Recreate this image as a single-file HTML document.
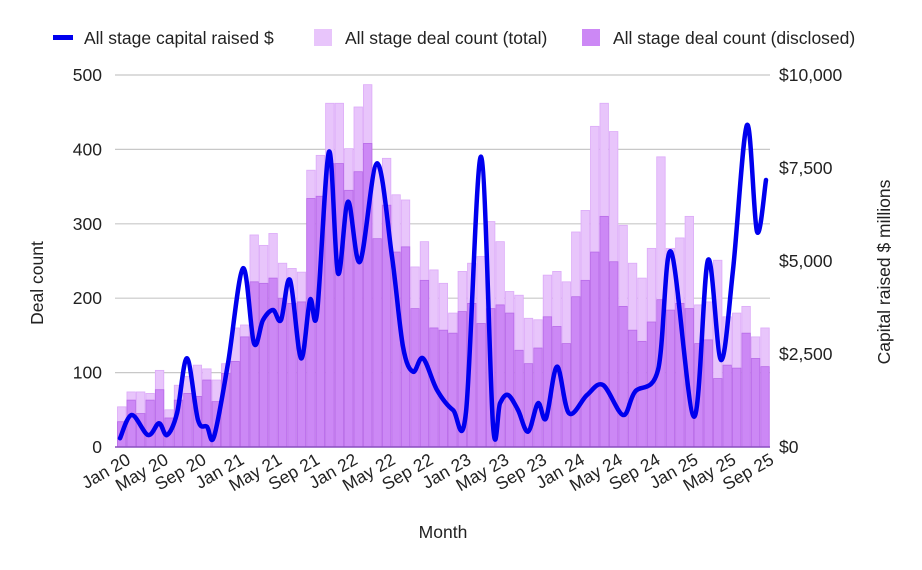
<!DOCTYPE html>
<html><head><meta charset="utf-8"><style>
html,body{margin:0;padding:0;background:#fff;}
svg{display:block;font-family:"Liberation Sans",Arial,sans-serif;}
</style></head><body>
<svg id="c" width="922" height="570" viewBox="0 0 922 570" xmlns="http://www.w3.org/2000/svg">
<rect width="922" height="570" fill="#fff"/>
<g id="grid" stroke="#c8c8c8" stroke-width="1.2"></g>
<g id="bars"></g>
<line x1="115" y1="447" x2="770" y2="447" stroke="#8a4fc0" stroke-width="1.5"/>
<path id="line" fill="none" stroke="#0000ee" stroke-width="4.5" stroke-linejoin="round" stroke-linecap="round"/>
<g id="labels" font-size="17.5" fill="#222"></g>
<!-- legend -->
<rect x="53" y="35" width="20" height="5" fill="#0000ee"/>
<text x="84" y="44" font-size="17.5" fill="#222">All stage capital raised $</text>
<rect x="314" y="29" width="18" height="17" fill="#e8c5fb"/>
<text x="345" y="44" font-size="17.5" fill="#222">All stage deal count (total)</text>
<rect x="582" y="29" width="18" height="17" fill="#cc88f5"/>
<text x="613" y="44" font-size="17.5" fill="#222">All stage deal count (disclosed)</text>
<text transform="translate(43,283) rotate(-90)" text-anchor="middle" font-size="17.5" fill="#222">Deal count</text>
<text transform="translate(890,272) rotate(-90)" text-anchor="middle" font-size="17.5" fill="#222">Capital raised $ millions</text>
<text x="443" y="538" text-anchor="middle" font-size="17.5" fill="#222">Month</text>
</svg>
<script>
var NS="http://www.w3.org/2000/svg";
function el(t,a,p){var e=document.createElementNS(NS,t);for(var k in a)e.setAttribute(k,a[k]);p.appendChild(e);return e;}
var g=document.getElementById('grid'),b=document.getElementById('bars'),L=document.getElementById('labels');
var y0=447,sc=0.744;
for(var i=0;i<=5;i++){var y=y0-i*100*sc;if(i>0)el('line',{x1:115,y1:y,x2:770,y2:y},g);
var t=el('text',{x:102,y:y+6,'text-anchor':'end'},L);t.textContent=i*100;}
var rl=['$0','$2,500','$5,000','$7,500','$10,000'];
for(var i=0;i<5;i++){var y=y0-i*93;var t2=el('text',{x:779,y:y+6},L);t2.textContent=rl[i];}
var tot=[54,74,74,72,103,50,83,95,110,105,90,112,160,164,285,271,287,247,240,235,372,392,462,462,401,457,487,375,388,339,332,242,276,238,220,180,236,247,256,303,276,209,204,173,171,231,236,222,289,318,431,462,424,298,247,227,267,390,267,281,310,191,195,251,175,180,189,148,160];
var dis=[34,63,45,63,77,39,63,72,68,90,61,99,115,148,222,220,227,200,193,195,334,337,381,381,345,370,408,280,325,262,269,186,224,160,157,153,182,193,166,186,191,180,130,112,133,175,162,139,202,224,262,310,249,189,157,142,168,198,184,193,186,139,144,92,110,106,153,119,108];
var bw=9.46;
for(var i=0;i<69;i++){var x=117+i*bw;
el('rect',{x:x+0.5,y:y0-tot[i]*sc,width:bw-1,height:tot[i]*sc,fill:'#e8c5fb',stroke:'#dcaaf8','stroke-width':0.8},b);
el('rect',{x:x+0.5,y:y0-dis[i]*sc,width:bw-1,height:dis[i]*sc,fill:'#cc88f5',stroke:'#b86ae8','stroke-width':0.8},b);}
var m=['Jan','May','Sep'];
for(var k=0;k<18;k++){var i=k*4;var cx=117+i*bw+bw/2+10;var yr=20+Math.floor(i/12);
var t=el('text',{x:cx,y:463,'text-anchor':'end',transform:'rotate(-30 '+cx+' 463)'},L);t.textContent=m[k%3]+' '+yr;}
var P=[[120,438.3],[131.7,415],[148,435],[159,423.3],[167,435],[177,413.3],[187,358.3],[198,420],[207,426.7],[214,436.7],[228,363.3],[243,268.3],[254,343.3],[263,320],[273,310],[281,320],[290,280],[301,358.3],[310,300],[317,313.3],[329,151.7],[338,273.3],[348,201.7],[360,261.7],[377,163.3],[392,256.7],[403,346.7],[413,371.7],[423,358.3],[437,390],[453,410],[466,412],[481,156.7],[493,425],[500,403.3],[508,395],[518,410],[528,431.7],[538,403.3],[546,418.3],[557,366.7],[569,413.3],[587,395],[603,385],[623,415],[635,391.7],[658,370],[671,251.7],[694,416.7],[708,260],[721,360],[733,270],[747,125],[757,231.7],[766,180]];
var d='M'+P[0][0]+','+P[0][1];
for(var i=0;i<P.length-1;i++){var p0=P[i-1]||P[i],p1=P[i],p2=P[i+1],p3=P[i+2]||p2;
d+=' C'+(p1[0]+(p2[0]-p0[0])/6)+','+(p1[1]+(p2[1]-p0[1])/6)+' '+(p2[0]-(p3[0]-p1[0])/6)+','+(p2[1]-(p3[1]-p1[1])/6)+' '+p2[0]+','+p2[1];}
document.getElementById('line').setAttribute('d',d);
</script>
</body></html>
